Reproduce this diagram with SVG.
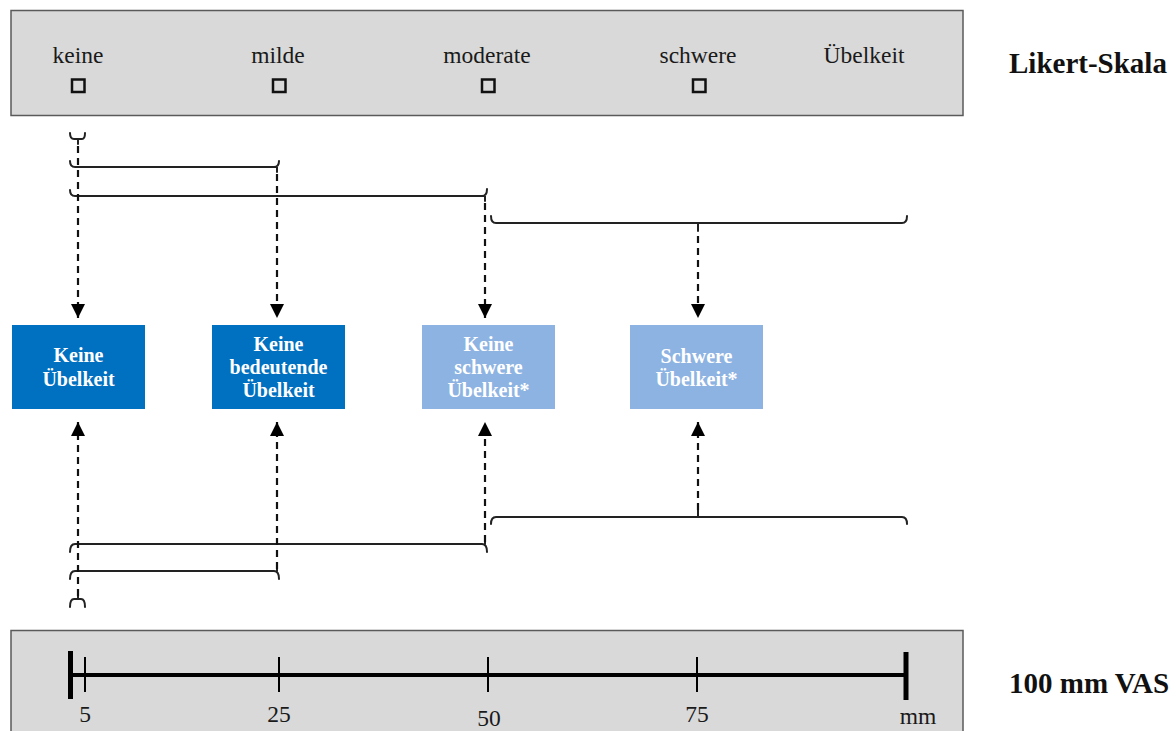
<svg xmlns="http://www.w3.org/2000/svg" width="1176" height="731" viewBox="0 0 1176 731">
<defs>
<style>
.panel{fill:#d9d9d9;stroke:#5a5a5a;stroke-width:1.5}
.lbl{font-family:"Liberation Serif","Times New Roman",serif;font-size:23.5px;fill:#1a1a1a;text-anchor:middle}
.side{font-family:"Liberation Serif","Times New Roman",serif;font-size:29px;font-weight:bold;fill:#111}
.chk{fill:none;stroke:#111;stroke-width:2.5}
.box-dark{fill:#0070c0}
.box-light{fill:#8db3e2}
.btxt{font-family:"Liberation Serif","Times New Roman",serif;font-size:20px;font-weight:bold;fill:#fff;text-anchor:middle}
.brace{fill:none;stroke:#222;stroke-width:2;stroke-linecap:round}
.dash{fill:none;stroke:#111;stroke-width:2.2;stroke-dasharray:7 5}
.axis{stroke:#000;fill:none}
</style>
<marker id="arr" viewBox="0 0 14 14" refX="14" refY="7" markerWidth="14" markerHeight="15" markerUnits="userSpaceOnUse" orient="auto">
<path d="M0,0 L14,7 L0,14 z" fill="#000"/>
</marker>
</defs>
<rect width="1176" height="731" fill="#fff"/>

<g id="likert-scale">
<rect class="panel" x="11" y="10.5" width="952" height="105"/>
<text class="lbl" x="78" y="63">keine</text>
<text class="lbl" x="278" y="63">milde</text>
<text class="lbl" x="487" y="63">moderate</text>
<text class="lbl" x="698" y="63">schwere</text>
<text class="lbl" x="864" y="63">Übelkeit</text>
<rect class="chk" x="72" y="79.5" width="12.5" height="12.5"/>
<rect class="chk" x="273" y="79.5" width="12.5" height="12.5"/>
<rect class="chk" x="482" y="79.5" width="12.5" height="12.5"/>
<rect class="chk" x="693" y="79.5" width="12.5" height="12.5"/>
<text class="side" x="1009" y="73">Likert-Skala</text>
</g>

<g id="vas-scale">
<rect class="panel" x="11" y="630.5" width="952" height="110"/>
<line class="axis" x1="70" y1="675" x2="906" y2="675" stroke-width="4"/>
<line class="axis" x1="70.5" y1="651" x2="70.5" y2="699" stroke-width="5"/>
<line class="axis" x1="906" y1="652" x2="906" y2="700" stroke-width="5"/>
<line class="axis" x1="85" y1="657" x2="85" y2="692" stroke-width="2"/>
<line class="axis" x1="279" y1="657" x2="279" y2="692" stroke-width="2"/>
<line class="axis" x1="488" y1="657" x2="488" y2="692" stroke-width="2"/>
<line class="axis" x1="697" y1="657" x2="697" y2="692" stroke-width="2"/>
<text class="lbl" x="85" y="722">5</text>
<text class="lbl" x="279" y="722">25</text>
<text class="lbl" x="489" y="726">50</text>
<text class="lbl" x="697" y="722">75</text>
<text class="lbl" x="918" y="724">mm</text>
<text class="side" x="1009" y="693">100 mm VAS</text>
</g>

<g id="node-keine">
<rect class="box-dark" x="12" y="325" width="133" height="84"/>
<text class="btxt" x="78.5" y="362">Keine</text>
<text class="btxt" x="78.5" y="386">Übelkeit</text>
</g>
<g id="node-keine-bedeutende">
<rect class="box-dark" x="212" y="325" width="133" height="84"/>
<text class="btxt" x="278.5" y="351">Keine</text>
<text class="btxt" x="278.5" y="374">bedeutende</text>
<text class="btxt" x="278.5" y="397">Übelkeit</text>
</g>
<g id="node-keine-schwere">
<rect class="box-light" x="422" y="325" width="133" height="84"/>
<text class="btxt" x="488.5" y="351">Keine</text>
<text class="btxt" x="488.5" y="374">schwere</text>
<text class="btxt" x="488.5" y="397">Übelkeit*</text>
</g>
<g id="node-schwere">
<rect class="box-light" x="630" y="325" width="133" height="84"/>
<text class="btxt" x="696.5" y="363">Schwere</text>
<text class="btxt" x="696.5" y="386">Übelkeit*</text>
</g>

<g id="connectors">
<path class="brace" d="M70,133 Q70,139 74,139 H82 Q85,139 85,133 M78,139 V144"/>
<path class="brace" d="M70,161 Q70,167 75,167 H274 Q279,167 279,161 M277,167 V172"/>
<path class="brace" d="M70,190 Q70,196 75,196 H482 Q487,196 487,189 M485,196 V201"/>
<path class="brace" d="M491,216 Q491,223 496,223 H902 Q907,223 907,216 M698,223 V231"/>
<path class="brace" d="M491,524 Q491,517 496,517 H902 Q907,517 907,524 M698,517 V510"/>
<path class="brace" d="M70,552 Q70,544 75,544 H482 Q487,544 487,552 M485,544 V539"/>
<path class="brace" d="M70,579 Q70,571 75,571 H274 Q279,571 279,579 M277,571 V566"/>
<path class="brace" d="M70,607 Q70,599 74,599 H81 Q85,599 85,607 M78,599 V594"/>
<line class="dash" x1="78" y1="146" x2="78" y2="318" marker-end="url(#arr)"/>
<line class="dash" x1="277" y1="174" x2="277" y2="318" marker-end="url(#arr)"/>
<line class="dash" x1="485" y1="203" x2="485" y2="318" marker-end="url(#arr)"/>
<line class="dash" x1="698" y1="236" x2="698" y2="318" marker-end="url(#arr)"/>
<line class="dash" x1="78" y1="596" x2="78" y2="422" marker-end="url(#arr)"/>
<line class="dash" x1="277" y1="569" x2="277" y2="422" marker-end="url(#arr)"/>
<line class="dash" x1="485" y1="542" x2="485" y2="422" marker-end="url(#arr)"/>
<line class="dash" x1="698" y1="510" x2="698" y2="422" marker-end="url(#arr)"/>
</g>
</svg>
